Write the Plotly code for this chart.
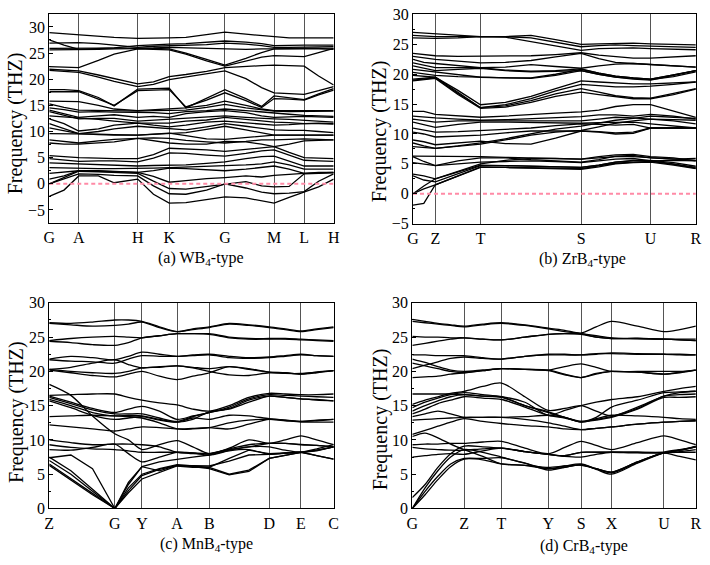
import plotly.graph_objects as go

# ---------------- (a) WB4-type ----------------
A_KPOS = [0, 30, 90, 122, 178.7, 228.7, 259.3, 289.3]
A_KLAB = ["G", "A", "H", "K", "G", "M", "L", "H"]
A_X = [0, 15, 30, 50, 66, 90, 106, 122, 139, 160, 178.7, 200, 216, 228.7, 244, 259.3, 274, 289.3]
A_BANDS = [
    [28.9, 28.7, 28.4, 28.1, 28.0, 27.8, 27.8, 27.9, 28.0, 28.5, 29.0, 28.6, 28.3, 28.1, 27.9, 27.9, 27.9, 27.9],
    [27.5, 26.5, 25.7, 25.8, 26.0, 26.4, 26.6, 26.7, 26.8, 27.0, 27.3, 27.1, 26.8, 26.4, 26.5, 26.5, 26.5, 26.5],
    [26.9, 26.9, 27.0, 26.8, 26.5, 26.1, 26.3, 26.4, 26.4, 26.6, 26.9, 26.7, 26.4, 26.1, 26.1, 26.1, 26.2, 26.2],
    [25.9, 25.9, 25.9, 25.9, 25.9, 25.9, 26.0, 26.1, 26.0, 25.8, 25.8, 25.7, 25.8, 25.8, 25.9, 25.9, 25.9, 25.8],
    [25.6, 25.6, 25.6, 25.7, 25.8, 25.9, 25.9, 25.8, 25.0, 23.8, 22.7, 24.0, 25.1, 25.8, 25.9, 25.9, 25.9, 25.7],
    [22.4, 22.3, 22.2, 23.6, 24.8, 25.8, 25.7, 25.6, 24.8, 23.5, 22.5, 23.5, 24.2, 24.5, 24.4, 24.3, 25.1, 25.9],
    [21.9, 21.8, 21.6, 20.8, 20.1, 19.1, 19.5, 20.5, 20.9, 21.5, 22.2, 22.5, 22.6, 22.7, 22.6, 22.5, 20.6, 18.9],
    [21.7, 21.5, 21.3, 20.4, 19.6, 18.6, 19.0, 19.9, 20.4, 21.0, 21.6, 20.1, 18.4, 17.4, 17.2, 17.1, 17.8, 18.6],
    [18.0, 18.0, 17.8, 16.5, 14.9, 18.1, 18.2, 18.3, 14.5, 16.3, 18.0, 16.3, 14.8, 16.8, 16.5, 16.1, 17.2, 18.2],
    [17.6, 17.6, 17.6, 16.2, 15.0, 17.8, 17.9, 18.0, 14.7, 16.0, 17.4, 15.9, 14.6, 16.3, 16.2, 16.0, 17.0, 17.9],
    [15.8, 15.7, 15.7, 15.0, 14.3, 14.0, 14.2, 14.3, 14.5, 15.0, 15.8, 15.0, 14.3, 14.0, 14.0, 13.9, 14.0, 14.0],
    [15.3, 14.6, 14.1, 14.0, 13.9, 13.9, 14.0, 14.0, 14.1, 14.6, 15.2, 14.5, 14.1, 13.9, 13.8, 13.8, 13.9, 13.9],
    [14.5, 14.2, 13.7, 13.8, 13.7, 13.7, 13.6, 13.4, 13.8, 14.0, 14.3, 14.0, 13.7, 13.5, 13.3, 13.1, 13.0, 12.9],
    [14.1, 13.4, 12.7, 13.0, 13.2, 12.7, 12.9, 12.7, 13.4, 13.8, 14.0, 13.6, 13.0, 12.7, 12.8, 12.9, 12.8, 12.7],
    [13.8, 13.1, 12.4, 12.5, 12.5, 12.0, 12.2, 12.4, 12.5, 12.8, 13.0, 12.7, 12.5, 12.4, 12.3, 12.1, 12.0, 11.8],
    [13.0, 12.8, 12.7, 12.3, 12.0, 11.6, 11.6, 11.6, 12.0, 12.2, 12.7, 12.3, 12.0, 11.8, 11.7, 11.5, 11.6, 11.5],
    [12.4, 11.5, 10.1, 10.5, 11.2, 11.6, 11.2, 10.9, 11.2, 11.8, 12.0, 11.6, 11.3, 11.2, 11.3, 11.5, 11.5, 11.4],
    [11.5, 10.6, 9.6, 10.0, 10.5, 11.0, 10.8, 10.5, 10.3, 10.9, 11.5, 11.0, 10.6, 10.3, 10.2, 10.2, 10.0, 9.8],
    [10.7, 10.2, 9.6, 9.4, 9.3, 9.3, 9.5, 9.7, 9.8, 10.4, 11.0, 10.3, 9.8, 9.3, 9.3, 9.3, 9.3, 9.3],
    [9.6, 9.6, 9.6, 9.5, 9.4, 9.3, 9.5, 9.7, 9.2, 8.6, 8.5, 8.9, 9.2, 9.3, 9.3, 9.3, 9.3, 9.3],
    [8.4, 8.1, 7.8, 8.2, 8.5, 8.7, 8.8, 8.7, 8.3, 8.0, 7.8, 8.1, 8.4, 8.4, 8.5, 8.6, 8.5, 8.4],
    [7.8, 7.6, 7.6, 7.8, 8.0, 8.7, 8.3, 7.8, 7.6, 7.6, 8.1, 8.0, 7.6, 7.1, 7.6, 8.2, 8.3, 8.4],
    [5.4, 5.2, 5.0, 4.9, 4.8, 4.8, 5.6, 6.8, 6.7, 6.5, 6.2, 6.6, 7.0, 7.1, 6.0, 5.0, 4.9, 4.8],
    [4.8, 4.6, 4.3, 4.4, 4.4, 4.2, 4.9, 5.9, 5.8, 5.5, 5.3, 5.8, 6.3, 6.5, 5.5, 4.5, 4.4, 4.3],
    [4.0, 3.9, 3.8, 3.7, 3.6, 3.4, 3.5, 3.5, 3.6, 3.9, 4.2, 4.8, 5.2, 5.3, 4.3, 3.4, 3.4, 3.4],
    [3.1, 3.0, 3.0, 2.9, 2.9, 2.9, 3.0, 3.1, 3.2, 3.3, 3.4, 3.6, 3.8, 4.2, 3.6, 2.8, 2.8, 2.8],
    [2.0, 2.3, 2.5, 2.5, 2.4, 2.2, 2.5, 3.0, 2.9, 2.7, 2.5, 2.8, 3.2, 3.4, 2.8, 2.0, 2.1, 2.2],
    [0.9, 1.5, 2.5, 2.4, 2.3, 2.2, 1.4, 0.3, 0.6, 1.0, 1.2, 1.5, 1.3, 1.6, 1.8, 2.0, 2.2, 2.2],
    [0.0, 1.2, 2.4, 2.3, 2.2, 2.0, 0.5, -0.9, -1.0, -0.5, 0.0, 0.4, -0.4, -0.6, -0.5, 1.9, 2.0, 2.1],
    [0.0, 0.9, 1.9, 1.8, 1.6, 1.5, -0.4, -1.9, -2.0, -1.2, 0.0, -0.8, -1.6, -1.9, -1.8, -1.5, 0.5, 1.9],
    [-2.4, -1.2, 1.5, 1.5, 0.2, 0.9, -2.0, -3.7, -3.6, -3.0, -2.5, -2.7, -3.2, -3.7, -2.6, -1.6, -0.6, 0.9],
]

# ---------------- (b) ZrB4-type ----------------
B_KPOS = [0, 22.7, 68.7, 171, 241.7, 287.7]
B_KLAB = ["G", "Z", "T", "S", "U", "R"]
B_X = [0, 11, 22.7, 45.7, 68.7, 94, 120, 145, 171, 189, 206, 224, 241.7, 265, 287.7]
B_BANDS = [
    [27.0, 26.9, 26.8, 26.6, 26.3, 26.3, 26.5, 25.8, 25.0, 25.1, 25.2, 25.2, 25.1, 25.0, 24.9],
    [26.5, 26.4, 26.3, 26.3, 26.3, 26.3, 26.1, 25.4, 24.6, 24.8, 24.9, 24.8, 24.7, 24.6, 24.5],
    [26.1, 26.0, 26.0, 26.1, 26.3, 26.2, 25.5, 24.7, 24.0, 24.3, 24.4, 24.4, 24.3, 24.2, 24.1],
    [23.5, 23.3, 23.1, 23.0, 23.0, 23.0, 23.1, 23.3, 23.6, 23.2, 22.9, 22.7, 22.7, 22.9, 23.1],
    [23.0, 22.7, 22.5, 22.2, 21.9, 22.0, 22.3, 22.9, 23.5, 22.6, 22.0, 21.8, 21.6, 21.4, 21.2],
    [22.5, 22.0, 21.8, 21.5, 21.1, 21.2, 21.6, 21.3, 21.0, 21.4, 21.7, 21.8, 21.6, 21.4, 21.2],
    [21.9, 21.5, 21.1, 21.1, 21.1, 20.7, 20.5, 20.6, 20.9, 20.2, 19.7, 19.4, 19.2, 19.9, 20.6],
    [21.4, 21.0, 20.6, 20.8, 21.0, 20.6, 20.4, 20.5, 20.6, 20.0, 19.5, 19.2, 19.0, 19.8, 20.6],
    [20.8, 20.6, 20.3, 19.9, 19.5, 19.4, 19.4, 20.0, 20.8, 20.2, 19.7, 19.4, 19.2, 19.9, 20.6],
    [20.3, 20.0, 19.8, 19.6, 19.5, 19.3, 19.3, 19.8, 20.6, 20.0, 19.5, 19.3, 19.1, 19.6, 20.4],
    [19.8, 19.7, 19.5, 17.3, 14.9, 15.3, 16.3, 17.6, 18.9, 18.7, 18.5, 18.4, 18.4, 18.6, 18.7],
    [19.2, 19.4, 19.5, 17.0, 14.4, 14.9, 15.9, 17.2, 18.3, 18.1, 17.9, 17.9, 18.0, 18.3, 18.7],
    [19.0, 19.2, 19.4, 16.8, 14.4, 14.7, 15.6, 16.7, 17.6, 17.0, 16.4, 16.1, 16.0, 16.8, 17.6],
    [18.9, 19.1, 19.3, 16.6, 14.3, 14.5, 15.3, 16.3, 17.0, 16.6, 16.2, 15.9, 15.9, 16.6, 17.5],
    [13.8, 13.8, 13.3, 13.0, 12.8, 13.0, 13.3, 13.5, 13.7, 14.0, 14.6, 14.9, 14.9, 13.8, 12.8],
    [13.0, 12.8, 12.7, 12.5, 12.3, 12.4, 12.6, 12.8, 12.9, 13.2, 13.2, 13.0, 13.3, 13.0, 12.5],
    [12.5, 12.2, 12.0, 12.2, 12.2, 12.2, 12.1, 12.2, 12.2, 12.5, 12.8, 12.7, 12.5, 12.2, 11.7],
    [12.0, 11.6, 11.1, 11.6, 12.0, 12.0, 11.9, 11.8, 11.8, 11.9, 12.0, 12.0, 11.7, 11.4, 11.0],
    [11.0, 10.6, 10.3, 10.4, 10.6, 10.8, 11.0, 11.4, 11.7, 11.6, 11.5, 11.6, 11.0, 11.0, 11.0],
    [10.3, 10.0, 9.5, 9.7, 9.8, 10.2, 10.5, 10.5, 10.5, 10.3, 10.0, 10.1, 11.0, 11.0, 11.0],
    [9.0, 8.7, 8.2, 8.5, 8.8, 8.4, 8.3, 9.3, 10.5, 10.4, 10.2, 10.3, 11.0, 11.0, 11.0],
    [8.5, 8.0, 7.6, 7.9, 8.3, 9.0, 9.8, 10.3, 10.6, 11.2, 11.8, 12.2, 12.5, 12.4, 12.3],
    [7.9, 7.7, 7.6, 8.0, 8.5, 9.2, 10.0, 10.8, 11.3, 11.8, 12.3, 12.6, 13.0, 12.8, 12.6],
    [6.3, 6.3, 6.3, 6.3, 6.2, 6.1, 6.0, 5.8, 5.8, 6.2, 6.5, 6.6, 6.2, 6.0, 5.5],
    [6.2, 5.4, 4.7, 5.5, 6.0, 6.0, 5.7, 5.5, 5.3, 5.7, 6.3, 6.4, 6.0, 5.8, 5.9],
    [5.2, 4.9, 4.7, 5.0, 5.3, 5.4, 5.5, 5.4, 5.2, 5.5, 5.8, 5.9, 5.5, 5.6, 5.5],
    [3.3, 3.0, 2.5, 3.8, 5.0, 5.6, 5.9, 5.9, 5.8, 6.0, 6.2, 6.2, 6.0, 5.8, 5.6],
    [3.0, 2.3, 2.0, 3.3, 4.7, 4.7, 4.6, 4.5, 4.4, 4.8, 5.3, 5.6, 5.6, 5.2, 4.6],
    [0.0, 1.3, 2.5, 3.7, 4.8, 4.7, 4.6, 4.5, 4.4, 4.8, 5.3, 5.5, 5.5, 5.0, 4.4],
    [0.0, 0.8, 1.5, 3.0, 4.5, 4.4, 4.4, 4.3, 4.2, 4.6, 5.1, 5.3, 5.4, 4.9, 4.3],
    [-1.9, -1.6, 1.5, 3.0, 4.4, 4.4, 4.3, 4.2, 4.1, 4.5, 5.0, 5.2, 5.3, 4.8, 4.2],
]

# ---------------- (c) MnB4-type ----------------
C_KPOS = [0, 66.7, 94.3, 130, 162.7, 223.7, 256, 289.3]
C_KLAB = ["Z", "G", "Y", "A", "B", "D", "E", "C"]
C_X = [0, 22, 44, 66.7, 80.5, 94.3, 112, 130, 146, 162.7, 183, 203, 223.7, 240, 256, 272, 289.3]
C_BANDS = [
    [27.1, 27.0, 27.2, 27.5, 27.5, 27.3, 26.5, 25.8, 26.2, 26.5, 27.0, 26.8, 26.5, 26.2, 25.9, 26.2, 26.5],
    [27.0, 26.8, 26.6, 26.7, 26.9, 27.2, 26.4, 25.8, 26.1, 26.4, 26.9, 26.7, 26.4, 26.1, 25.8, 26.1, 26.4],
    [24.5, 24.8, 25.0, 25.1, 25.0, 24.9, 25.2, 25.5, 25.5, 25.5, 25.0, 24.8, 24.8, 24.8, 24.7, 24.6, 24.5],
    [24.4, 24.2, 23.9, 23.8, 24.2, 24.9, 25.2, 25.5, 25.5, 25.4, 24.9, 24.7, 24.7, 24.7, 24.6, 24.5, 24.4],
    [21.8, 22.2, 22.0, 21.7, 22.2, 22.8, 22.5, 22.2, 22.4, 22.5, 22.2, 22.0, 22.1, 22.3, 22.5, 22.3, 22.2],
    [21.7, 21.5, 21.4, 21.2, 21.8, 22.3, 22.2, 22.2, 22.3, 22.4, 22.0, 21.9, 22.0, 22.2, 22.4, 22.3, 22.2],
    [20.3, 20.6, 21.2, 21.7, 21.0, 20.5, 20.7, 20.8, 20.6, 20.4, 20.7, 20.4, 19.9, 19.8, 19.6, 19.8, 20.1],
    [20.3, 20.0, 19.8, 19.7, 20.0, 20.5, 20.6, 20.8, 20.5, 20.0, 19.5, 19.4, 19.8, 19.7, 19.7, 19.9, 20.1],
    [20.2, 19.8, 19.4, 19.2, 19.6, 20.0, 19.3, 18.8, 19.3, 19.8, 20.7, 20.3, 19.9, 19.8, 19.6, 19.9, 20.1],
    [16.5, 16.6, 16.7, 16.7, 16.2, 15.8, 15.4, 15.1, 14.5, 14.2, 15.0, 16.2, 16.8, 16.7, 16.6, 16.6, 16.7],
    [16.4, 15.5, 14.6, 14.0, 14.5, 14.9, 14.2, 13.0, 13.5, 14.0, 14.8, 16.0, 16.6, 16.5, 16.4, 16.3, 16.2],
    [16.2, 15.3, 14.4, 13.8, 13.8, 13.8, 13.2, 12.7, 13.4, 14.0, 14.6, 15.8, 16.4, 16.2, 16.0, 15.8, 15.7],
    [15.9, 15.0, 14.0, 13.5, 13.6, 13.5, 13.0, 12.6, 13.0, 14.1, 14.5, 15.5, 16.4, 16.2, 16.0, 15.9, 15.7],
    [15.7, 14.7, 13.6, 13.0, 13.2, 13.4, 12.9, 12.6, 13.2, 13.0, 13.6, 13.5, 13.1, 12.9, 12.7, 12.9, 13.0],
    [13.4, 13.5, 13.6, 13.5, 13.4, 13.2, 12.5, 11.6, 11.6, 11.8, 12.5, 12.9, 13.0, 12.8, 12.6, 12.6, 12.6],
    [18.1, 16.5, 13.5, 10.9, 10.0, 8.6, 9.3, 9.9, 9.0, 8.0, 8.8, 10.0, 9.5, 10.0, 10.6, 10.0, 9.3],
    [12.2, 11.9, 11.6, 11.3, 11.6, 11.9, 11.8, 11.6, 11.7, 11.8, 11.6, 12.3, 13.0, 12.9, 12.7, 12.8, 13.0],
    [10.0, 9.6, 9.3, 9.4, 9.4, 9.3, 9.0, 8.2, 8.1, 8.0, 8.6, 9.0, 9.0, 8.5, 8.2, 8.5, 9.0],
    [9.3, 8.9, 8.7, 8.6, 8.4, 8.2, 8.2, 8.2, 8.1, 7.8, 8.4, 8.6, 7.9, 8.1, 8.2, 7.7, 7.2],
    [8.6, 8.5, 8.9, 9.4, 8.0, 6.8, 7.5, 8.2, 8.0, 8.0, 8.7, 9.3, 9.5, 9.5, 9.3, 9.2, 9.0],
]
C_ACOUSTIC = [
    [7.5, 5.5, 2.8, 0.0, 3.0, 5.0, 5.8, 6.4, 6.2, 6.0, 5.0, 5.6, 7.3, 7.8, 8.2, 8.4, 9.0],
    [7.0, 5.0, 2.5, 0.0, 2.6, 4.8, 5.7, 6.3, 6.1, 5.8, 4.9, 5.4, 7.3, 7.8, 8.2, 8.5, 9.0],
    [6.5, 4.4, 2.2, 0.0, 3.8, 6.1, 5.5, 6.3, 6.3, 6.2, 6.9, 7.8, 7.9, 8.1, 8.2, 7.7, 7.2],
    [6.3, 4.2, 2.0, 0.0, 2.3, 4.3, 5.2, 6.2, 6.0, 6.0, 7.3, 8.5, 8.0, 8.1, 8.2, 8.7, 9.3],
    [7.4, 7.8, 5.8, 0.0, 3.5, 6.1, 6.8, 7.2, 7.5, 7.8, 8.5, 9.0, 9.5, 9.5, 9.3, 9.2, 9.0],
]

# ---------------- (d) CrB4-type ----------------
D_KPOS = [0, 52.7, 90.7, 138.4, 171.7, 202.7, 256, 288.4]
D_KLAB = ["G", "Z", "T", "Y", "S", "X", "U", "R"]
D_X = [0, 13, 26, 39, 52.7, 71.7, 90.7, 114.5, 138.4, 155, 171.7, 187, 202.7, 229, 256, 272, 288.4]
D_BANDS = [
    [27.6, 27.3, 27.0, 26.8, 26.6, 26.9, 27.1, 26.8, 26.3, 26.0, 25.6, 26.5, 27.3, 26.6, 25.8, 26.1, 26.6],
    [27.3, 27.1, 26.9, 26.7, 26.5, 26.8, 27.0, 26.7, 26.2, 25.8, 25.5, 25.2, 24.9, 24.8, 24.7, 24.7, 24.7],
    [25.1, 25.0, 25.0, 24.9, 24.9, 24.7, 24.6, 25.0, 25.4, 25.5, 25.5, 25.0, 24.8, 24.8, 24.7, 24.6, 24.5],
    [23.8, 24.1, 24.4, 24.7, 24.9, 24.7, 24.6, 25.0, 25.4, 25.5, 25.4, 25.0, 24.8, 24.8, 24.7, 24.6, 24.5],
    [22.4, 22.4, 22.3, 22.3, 22.3, 22.0, 21.8, 22.2, 22.5, 22.5, 22.4, 22.5, 22.7, 22.6, 22.5, 22.5, 22.4],
    [21.8, 21.3, 20.7, 20.2, 20.0, 20.2, 20.4, 20.3, 20.2, 20.7, 21.1, 20.6, 20.0, 20.0, 20.0, 20.0, 20.2],
    [21.2, 20.8, 20.4, 20.0, 19.8, 20.1, 20.4, 20.3, 20.1, 19.5, 19.1, 19.7, 20.0, 19.9, 19.6, 19.8, 20.2],
    [20.4, 20.9, 21.4, 21.9, 22.1, 21.9, 21.8, 22.2, 22.4, 22.4, 22.4, 22.6, 22.6, 22.5, 22.5, 22.4, 22.4],
    [19.1, 19.2, 19.3, 19.6, 19.8, 20.1, 20.4, 20.3, 20.2, 19.6, 19.1, 19.6, 20.0, 19.9, 19.6, 19.9, 20.2],
    [16.7, 16.7, 16.7, 16.7, 16.6, 16.4, 16.3, 15.5, 13.6, 14.3, 15.0, 15.5, 15.9, 16.3, 17.1, 17.5, 17.8],
    [15.2, 15.8, 16.3, 16.8, 17.1, 17.8, 18.3, 16.3, 14.3, 14.6, 15.0, 14.2, 13.5, 14.8, 16.4, 16.9, 17.1],
    [14.7, 15.5, 16.1, 16.6, 16.9, 16.6, 16.3, 15.0, 14.1, 13.3, 12.7, 13.0, 13.4, 14.6, 16.4, 16.6, 16.7],
    [14.2, 15.0, 15.7, 16.3, 16.6, 16.4, 16.2, 15.0, 14.0, 13.3, 12.6, 12.9, 13.3, 14.5, 16.2, 16.2, 16.3],
    [13.8, 14.5, 15.3, 15.8, 16.3, 16.1, 15.9, 14.8, 13.6, 13.2, 12.7, 13.3, 14.8, 15.8, 16.9, 17.0, 17.1],
    [13.4, 13.8, 14.2, 13.8, 13.3, 13.3, 13.3, 13.4, 13.6, 13.3, 12.6, 13.1, 13.6, 13.5, 13.3, 13.1, 13.0],
    [12.9, 13.0, 13.1, 13.2, 13.3, 13.3, 13.3, 13.0, 12.5, 12.0, 11.5, 11.7, 11.9, 12.3, 12.6, 12.7, 12.8],
    [10.8, 11.4, 12.0, 12.6, 13.1, 12.7, 12.4, 12.1, 11.9, 11.6, 11.5, 11.7, 11.9, 12.3, 12.6, 12.7, 12.8],
    [10.5, 11.0, 10.3, 9.4, 8.6, 7.6, 6.5, 6.3, 5.8, 6.2, 6.5, 5.8, 5.3, 6.8, 8.1, 8.2, 8.2],
    [9.3, 9.4, 9.4, 9.5, 9.5, 9.7, 9.8, 8.8, 8.0, 8.9, 9.8, 9.2, 8.6, 9.6, 10.6, 10.0, 9.3],
    [8.9, 8.7, 8.6, 8.5, 8.5, 8.7, 8.8, 8.3, 7.9, 7.7, 8.2, 8.2, 8.2, 8.2, 8.2, 8.5, 9.1],
    [7.5, 7.7, 7.9, 8.0, 7.9, 8.4, 8.8, 8.3, 7.9, 7.6, 7.5, 7.9, 8.2, 8.2, 8.1, 7.6, 7.1],
    [1.6, 3.5, 6.0, 8.0, 9.1, 9.0, 8.8, 8.3, 7.9, 7.7, 8.2, 8.2, 8.2, 8.1, 8.1, 8.5, 9.0],
    [0.0, 3.0, 5.5, 7.5, 8.6, 8.2, 7.5, 6.6, 5.8, 6.0, 6.4, 5.7, 5.0, 6.6, 8.1, 8.5, 9.0],
    [0.0, 2.5, 4.7, 6.5, 7.3, 7.3, 7.4, 6.6, 5.6, 6.0, 6.4, 5.8, 5.2, 6.7, 8.2, 8.6, 9.0],
    [0.0, 2.0, 4.2, 6.1, 7.2, 7.1, 6.5, 6.3, 6.0, 6.2, 6.3, 5.8, 5.3, 6.8, 8.1, 8.3, 8.6],
]

TITLES = ["(a) WB<sub>4</sub>-type", "(b) ZrB<sub>4</sub>-type",
          "(c) MnB<sub>4</sub>-type", "(d) CrB<sub>4</sub>-type"]
YTITLE = "Frequency (THZ)"

W, H = 710, 565
FONT = "Liberation Serif"

fig = go.Figure()


def add_bands(xs, bands, idx, shape, smoothing=1.0):
    for b in bands:
        line = dict(color="black", width=1.3, shape=shape)
        if shape == "spline":
            line["smoothing"] = smoothing
        fig.add_trace(go.Scatter(
            x=xs, y=b, mode="lines", line=line,
            xaxis="x" + ("" if idx == 1 else str(idx)),
            yaxis="y" + ("" if idx == 1 else str(idx)),
            showlegend=False, hoverinfo="skip"))


add_bands(A_X, A_BANDS, 1, "linear")
add_bands(B_X, B_BANDS, 2, "linear")
add_bands(C_X, C_BANDS, 3, "spline", 0.8)
add_bands(C_X, C_ACOUSTIC, 3, "linear")
add_bands(D_X, D_BANDS, 4, "spline", 0.8)

# zero-frequency dashed reference lines in (a) and (b)
for idx, xs in ((1, A_X), (2, B_X)):
    fig.add_trace(go.Scatter(
        x=[xs[0], xs[-1]], y=[0, 0], mode="lines",
        line=dict(color="#ff8aa6", width=2, dash="4px,3px"),
        xaxis="x" + ("" if idx == 1 else str(idx)),
        yaxis="y" + ("" if idx == 1 else str(idx)),
        showlegend=False, hoverinfo="skip"))


def px_x(p):
    return p / W


def px_y(p):
    return 1 - p / H


panels = [
    dict(x=(44, 333.3), y=(6, 221.7), yr=[-7.5, 32.5], kp=A_KPOS, kl=A_KLAB, xs=A_X),
    dict(x=(414, 701.7), y=(6.7, 222.3), yr=[-5, 30], kp=B_KPOS, kl=B_KLAB, xs=B_X),
    dict(x=(44, 333.3), y=(304, 516), yr=[0, 30], kp=C_KPOS, kl=C_KLAB, xs=C_X),
    dict(x=(413.3, 701.7), y=(304, 516), yr=[0, 30], kp=D_KPOS, kl=D_KLAB, xs=D_X),
]

layout = {}
for i, p in enumerate(panels, start=1):
    sx = "" if i == 1 else str(i)
    layout["xaxis" + sx] = dict(
        domain=[px_x(p["x"][0]), px_x(p["x"][1])],
        anchor="y" + sx, range=[p["xs"][0], p["xs"][-1]],
        tickmode="array", tickvals=p["kp"], ticktext=p["kl"],
        showgrid=True, gridcolor="#555555", gridwidth=1.2,
        showline=True, mirror=True, linecolor="black", linewidth=1.2,
        ticks="", zeroline=False,
        tickfont=dict(family=FONT, size=16, color="black"),
    )
    layout["yaxis" + sx] = dict(
        domain=[px_y(p["y"][1]), px_y(p["y"][0])],
        anchor="x" + sx, range=p["yr"], dtick=5, tick0=0,
        showgrid=False, zeroline=False,
        showline=True, mirror=True, linecolor="black", linewidth=1.2,
        ticks="inside", ticklen=4, tickcolor="black",
        minor=dict(ticks="inside", ticklen=2, dtick=2.5, tickcolor="black"),
        tickfont=dict(family=FONT, size=16, color="black"),
    )

annotations = []
title_pos = [(198, 258), (586, 259), (204, 553), (588, 555)]
for t, (cx, cy) in zip(TITLES, title_pos):
    annotations.append(dict(text=t, x=px_x(cx), y=px_y(cy), xref="paper", yref="paper",
                            showarrow=False, xanchor="center", yanchor="middle",
                            font=dict(family=FONT, size=16, color="black")))
ytitle_pos = [(10, 119), (380, 127.5), (10, 416.7), (381, 424.5)]
for (cx, cy) in ytitle_pos:
    annotations.append(dict(text=YTITLE, x=px_x(cx), y=px_y(cy), xref="paper", yref="paper",
                            showarrow=False, xanchor="center", yanchor="middle", textangle=-90,
                            font=dict(family=FONT, size=20, color="black")))

fig.update_layout(
    width=W, height=H,
    margin=dict(l=0, r=0, t=0, b=0),
    paper_bgcolor="white", plot_bgcolor="white",
    font=dict(family=FONT, size=16, color="black"),
    showlegend=False,
    annotations=annotations,
    **layout,
)

fig.write_html(
    "out.html",
    config={"displayModeBar": False},
    post_script="document.body.style.margin='0px';document.body.style.overflow='hidden';",
)
